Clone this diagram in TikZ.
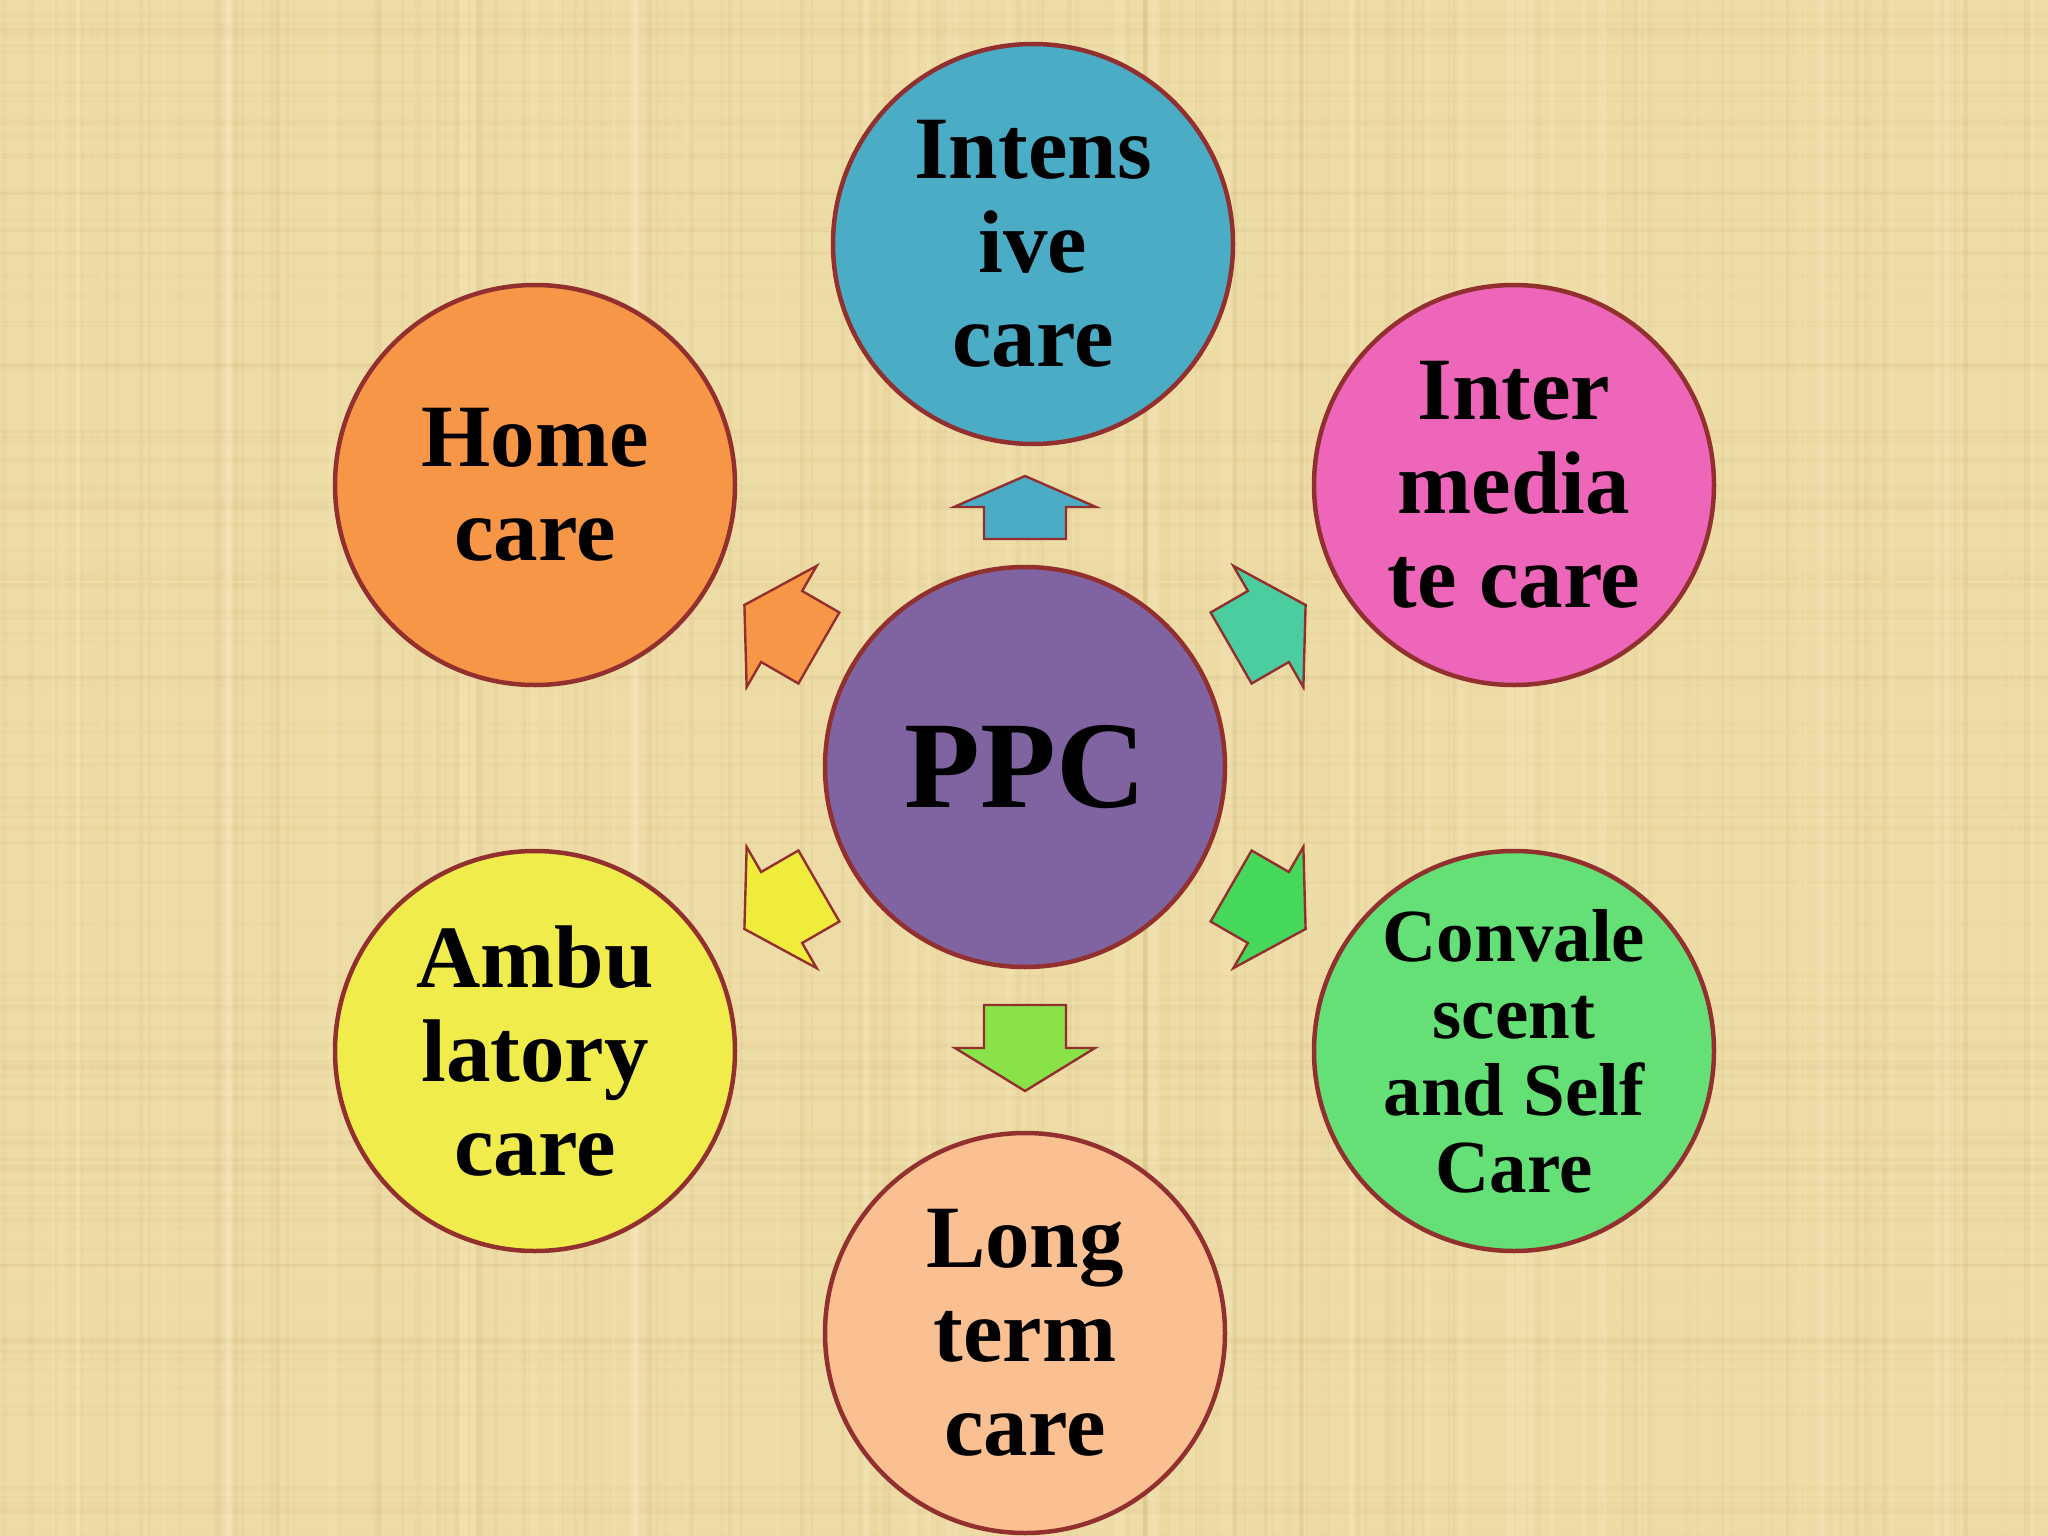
\documentclass[tikz,border=0pt]{standalone}
\usepackage{fontspec}
\setmainfont{Liberation Serif}
\usetikzlibrary{calc}
\definecolor{bg}{RGB}{238,220,166}
\definecolor{bgdark}{RGB}{200,172,112}
\definecolor{bglight}{RGB}{250,240,205}
\definecolor{edge}{RGB}{145,48,46}
\definecolor{cInt}{RGB}{75,172,198}
\definecolor{cHome}{RGB}{247,150,70}
\definecolor{cMid}{RGB}{238,102,186}
\definecolor{cAmb}{RGB}{240,236,76}
\definecolor{cCon}{RGB}{100,224,118}
\definecolor{cLong}{RGB}{250,192,146}
\definecolor{cPPC}{RGB}{128,100,162}
\definecolor{aUp}{RGB}{75,172,198}
\definecolor{aUR}{RGB}{75,205,160}
\definecolor{aDR}{RGB}{70,216,90}
\definecolor{aDown}{RGB}{136,226,72}
\definecolor{aDL}{RGB}{240,236,60}
\definecolor{aUL}{RGB}{247,150,70}
\newcommand\blockarr[7]{%
  \draw[blockarrow, fill=#7]
    ($(ppc.center)+(#1:#2)+(#1+90:#5)$) --
    ($(ppc.center)+(#1:#3)+(#1+90:#5)$) --
    ($(ppc.center)+(#1:#3)+(#1+90:#6)$) --
    ($(ppc.center)+(#1:#4)$) --
    ($(ppc.center)+(#1:#3)+(#1-90:#6)$) --
    ($(ppc.center)+(#1:#3)+(#1-90:#5)$) --
    ($(ppc.center)+(#1:#2)+(#1-90:#5)$) -- cycle;}
\begin{document}
\begin{tikzpicture}[x=1pt,y=-1pt,
  bubble/.style={circle, draw=edge, line width=4.5pt, minimum size=400pt, inner sep=0pt,
    align=center, text=black, font=\bfseries\fontsize{89}{94}\selectfont},
  blockarrow/.style={draw=edge, line width=2.4pt, line join=miter}]
\useasboundingbox (0,0) rectangle (2048,1536);
\fill[bg] (0,0) rectangle (2048,1536);
% linen-like texture
\pgfmathsetseed{5}
\foreach \i in {1,...,160}{
  \pgfmathsetmacro\xx{rnd*2048}
  \pgfmathsetmacro\ww{1+rnd*5}
  \pgfmathsetmacro\oo{0.04+rnd*0.08}
  \fill[bgdark, opacity=\oo] (\xx,0) rectangle ++(\ww,1536);
}
\foreach \i in {1,...,120}{
  \pgfmathsetmacro\yy{rnd*1536}
  \pgfmathsetmacro\ww{1+rnd*5}
  \pgfmathsetmacro\oo{0.04+rnd*0.07}
  \fill[bgdark, opacity=\oo] (0,\yy) rectangle ++(2048,\ww);
}
\foreach \i in {1,...,60}{
  \pgfmathsetmacro\xx{rnd*2048}
  \pgfmathsetmacro\ww{2+rnd*8}
  \pgfmathsetmacro\oo{0.10+rnd*0.15}
  \fill[bglight, opacity=\oo] (\xx,0) rectangle ++(\ww,1536);
}
% central node
\node[bubble, fill=cPPC, font=\bfseries\fontsize{124}{124}\selectfont] (ppc) at (1025,767) {PPC};
% outer nodes
\node[bubble, fill=cInt] (int) at (1033,244) {Intens\\ive\\care};
\node[bubble, fill=cHome] (home) at (535,485) {Home\\care};
\node[bubble, fill=cMid] (mid) at (1514,485) {Inter\\media\\te care};
\node[bubble, fill=cAmb] (amb) at (535,1051) {Ambu\\latory\\care};
\node[bubble, fill=cCon, font=\bfseries\fontsize{75}{77}\selectfont] (con) at (1514,1051) {Convale\\scent\\and Self\\Care};
\node[bubble, fill=cLong] (long) at (1025,1333) {Long\\term\\care};
% block arrows
\blockarr{-90}{228}{260}{291}{41}{71}{aUp}
\blockarr{-30}{238}{281}{324}{41}{70}{aUR}
\blockarr{30}{238}{281}{324}{41}{70}{aDR}
\blockarr{90}{238}{281}{324}{41}{70}{aDown}
\blockarr{150}{238}{281}{324}{41}{70}{aDL}
\blockarr{-150}{238}{281}{324}{41}{70}{aUL}
\end{tikzpicture}
\end{document}
